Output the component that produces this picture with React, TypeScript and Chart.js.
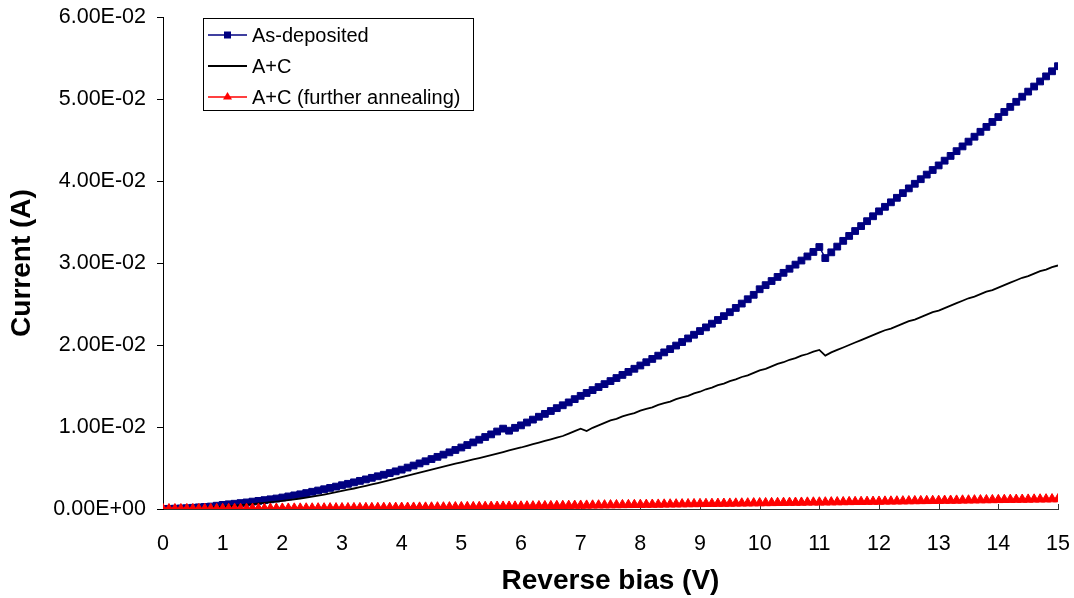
import React, { useEffect, useRef } from 'react';
import { Chart, registerables } from 'chart.js';

Chart.register(...registerables);

const voltage = [
  0.0, 0.1, 0.2, 0.3, 0.4, 0.5, 0.6, 0.7, 0.8, 0.9,
  1.0, 1.1, 1.2, 1.3, 1.4, 1.5, 1.6, 1.7, 1.8, 1.9,
  2.0, 2.1, 2.2, 2.3, 2.4, 2.5, 2.6, 2.7, 2.8, 2.9,
  3.0, 3.1, 3.2, 3.3, 3.4, 3.5, 3.6, 3.7, 3.8, 3.9,
  4.0, 4.1, 4.2, 4.3, 4.4, 4.5, 4.6, 4.7, 4.8, 4.9,
  5.0, 5.1, 5.2, 5.3, 5.4, 5.5, 5.6, 5.7, 5.8, 5.9,
  6.0, 6.1, 6.2, 6.3, 6.4, 6.5, 6.6, 6.7, 6.8, 6.9,
  7.0, 7.1, 7.2, 7.3, 7.4, 7.5, 7.6, 7.7, 7.8, 7.9,
  8.0, 8.1, 8.2, 8.3, 8.4, 8.5, 8.6, 8.7, 8.8, 8.9,
  9.0, 9.1, 9.2, 9.3, 9.4, 9.5, 9.6, 9.7, 9.8, 9.9,
  10.0, 10.1, 10.2, 10.3, 10.4, 10.5, 10.6, 10.7, 10.8, 10.9,
  11.0, 11.1, 11.2, 11.3, 11.4, 11.5, 11.6, 11.7, 11.8, 11.9,
  12.0, 12.1, 12.2, 12.3, 12.4, 12.5, 12.6, 12.7, 12.8, 12.9,
  13.0, 13.1, 13.2, 13.3, 13.4, 13.5, 13.6, 13.7, 13.8, 13.9,
  14.0, 14.1, 14.2, 14.3, 14.4, 14.5, 14.6, 14.7, 14.8, 14.9,
  15.0,
];

const asDeposited = [
  0, 0.00002, 0.00004, 0.00007, 0.0001, 0.00015, 0.0002, 0.00025, 0.0003, 0.0004,
  0.0005, 0.00057, 0.00064, 0.00072, 0.0008, 0.0009, 0.00099, 0.00108, 0.00118, 0.00128,
  0.0014, 0.00153, 0.00166, 0.00179, 0.00194, 0.0021, 0.00225, 0.00241, 0.00257, 0.00273,
  0.0029, 0.00307, 0.00325, 0.00343, 0.00361, 0.0038, 0.00399, 0.00418, 0.00438, 0.00459,
  0.0048, 0.00505, 0.0053, 0.00556, 0.00582, 0.00609, 0.00636, 0.00663, 0.00691, 0.0072,
  0.0075, 0.0078, 0.00812, 0.00845, 0.00878, 0.0091, 0.00945, 0.0098, 0.00955, 0.0099,
  0.0102, 0.01055, 0.0109, 0.01125, 0.0116, 0.01195, 0.0123, 0.01265, 0.013, 0.0134,
  0.0138, 0.01415, 0.0145, 0.01487, 0.01523, 0.0156, 0.01597, 0.01635, 0.01672, 0.0171,
  0.0175, 0.0179, 0.0183, 0.0187, 0.0191, 0.0195, 0.01993, 0.02036, 0.0208, 0.02125,
  0.0217, 0.02215, 0.0226, 0.02305, 0.02352, 0.024, 0.02452, 0.02505, 0.02558, 0.02612,
  0.0268, 0.0273, 0.0278, 0.0283, 0.0288, 0.0293, 0.0298, 0.0303, 0.0308, 0.03135,
  0.03195, 0.0306, 0.0313, 0.032, 0.0327, 0.0333, 0.0339, 0.0345, 0.0351, 0.0357,
  0.0363, 0.03685, 0.0374, 0.03795, 0.03852, 0.0391, 0.03966, 0.04022, 0.04078, 0.04134,
  0.0419, 0.04248, 0.04306, 0.04364, 0.04422, 0.0448, 0.0454, 0.046, 0.0466, 0.0472,
  0.0478, 0.04842, 0.04904, 0.04966, 0.05028, 0.0509, 0.05152, 0.05214, 0.05276, 0.05338,
  0.054,
];

const aPlusC = [
  0, 0.00001, 0.00002, 0.00004, 0.00006, 0.00009, 0.00012, 0.00016, 0.0002, 0.00025,
  0.0003, 0.00035, 0.00041, 0.00047, 0.00053, 0.0006, 0.00067, 0.00075, 0.00083, 0.00091,
  0.001, 0.00109, 0.00118, 0.00128, 0.00139, 0.0015, 0.00163, 0.00176, 0.0019, 0.00205,
  0.0022, 0.00235, 0.0025, 0.00266, 0.00283, 0.003, 0.00317, 0.00335, 0.00353, 0.00371,
  0.0039, 0.00408, 0.00426, 0.00444, 0.00462, 0.0048, 0.00498, 0.00516, 0.00534, 0.00552,
  0.0057, 0.00587, 0.00604, 0.00621, 0.00639, 0.00657, 0.00676, 0.00695, 0.00714, 0.00733,
  0.0075, 0.0077, 0.0079, 0.0081, 0.0083, 0.0085, 0.0087, 0.0089, 0.0092, 0.0095,
  0.0098, 0.0095, 0.0099, 0.0102, 0.0105, 0.0108, 0.011, 0.0113, 0.0115, 0.0117,
  0.012, 0.0122, 0.0124, 0.0127, 0.0129, 0.0131, 0.0134, 0.0136, 0.0138, 0.0141,
  0.0143, 0.0146, 0.0148, 0.0151, 0.0153, 0.0156, 0.0158, 0.0161, 0.0163, 0.0166,
  0.0169, 0.0171, 0.0174, 0.0177, 0.0179, 0.0182, 0.0184, 0.0187, 0.0189, 0.0192,
  0.0194, 0.0187, 0.0191, 0.0194, 0.0197, 0.02, 0.0203, 0.0206, 0.0209, 0.0212,
  0.0215, 0.0218, 0.022, 0.0223, 0.0226, 0.0229, 0.0231, 0.0234, 0.0237, 0.024,
  0.0242, 0.0245, 0.0248, 0.0251, 0.0254, 0.0257, 0.0259, 0.0262, 0.0265, 0.0267,
  0.027, 0.0273, 0.0276, 0.0279, 0.0282, 0.0284, 0.0287, 0.029, 0.0292, 0.0295,
  0.0297,
];

const furtherAnnealing = [
  0, 0, 0, 0, 0.00001, 0.00001, 0.00001, 0.00002, 0.00002, 0.00002,
  0.00003, 0.00003, 0.00004, 0.00004, 0.00004, 0.00005, 0.00005, 0.00005, 0.00006, 0.00006,
  0.00007, 0.00007, 0.00008, 0.00008, 0.00009, 0.00009, 0.0001, 0.0001, 0.00011, 0.00011,
  0.00012, 0.00012, 0.00013, 0.00013, 0.00014, 0.00014, 0.00015, 0.00016, 0.00016, 0.00017,
  0.00018, 0.00018, 0.00019, 0.0002, 0.0002, 0.00021, 0.00022, 0.00022, 0.00023, 0.00024,
  0.00025, 0.00026, 0.00026, 0.00027, 0.00028, 0.00029, 0.0003, 0.00031, 0.00031, 0.00032,
  0.00033, 0.00034, 0.00035, 0.00036, 0.00037, 0.00038, 0.00039, 0.0004, 0.00041, 0.00042,
  0.00043, 0.00044, 0.00045, 0.00046, 0.00047, 0.00048, 0.00049, 0.0005, 0.00051, 0.00052,
  0.00053, 0.00054, 0.00055, 0.00056, 0.00057, 0.00058, 0.00059, 0.0006, 0.00061, 0.00062,
  0.00063, 0.00064, 0.00065, 0.00066, 0.00067, 0.00068, 0.00069, 0.0007, 0.00071, 0.00072,
  0.00073, 0.00074, 0.00075, 0.00076, 0.00077, 0.00078, 0.00079, 0.0008, 0.00081, 0.00082,
  0.00082, 0.00083, 0.00084, 0.00085, 0.00086, 0.00087, 0.00088, 0.00089, 0.0009, 0.00091,
  0.00092, 0.00093, 0.00094, 0.00095, 0.00096, 0.00097, 0.00098, 0.00099, 0.001, 0.00101,
  0.00102, 0.00103, 0.00104, 0.00105, 0.00106, 0.00107, 0.00108, 0.00109, 0.0011, 0.00111,
  0.00112, 0.00113, 0.00114, 0.00115, 0.00116, 0.00117, 0.00118, 0.00119, 0.0012, 0.00121,
  0.00122,
];

const seriesNames = ['As-deposited', 'A+C', 'A+C (further annealing)'];
const xTickLabels = ['0', '1', '2', '3', '4', '5', '6', '7', '8', '9', '10', '11', '12', '13', '14', '15'];
const yTickLabels = ['0.00E+00', '1.00E-02', '2.00E-02', '3.00E-02', '4.00E-02', '5.00E-02', '6.00E-02'];
const xTitle = 'Reverse bias (V)';
const yTitle = 'Current (A)';

const FONT = '"Liberation Sans", Arial, sans-serif';

const toPoints = (ys: number[]) => ys.map((y, i) => ({ x: voltage[i], y }));

const axisTicks = {
  id: 'axisTicks',
  beforeDatasetsDraw(chart: any) {
    const { ctx, chartArea } = chart;
    const xs = chart.scales.x;
    const ys = chart.scales.y;
    ctx.save();
    ctx.lineWidth = 1;
    ctx.strokeStyle = '#333';
    xs.ticks.forEach((t: any) => {
      const px = Math.round(xs.getPixelForValue(t.value)) + 0.5;
      ctx.beginPath();
      ctx.moveTo(px, chartArea.bottom);
      ctx.lineTo(px, chartArea.bottom - 5);
      ctx.stroke();
    });
    ctx.strokeStyle = '#000';
    ys.ticks.forEach((t: any) => {
      const py = Math.round(ys.getPixelForValue(t.value)) + 0.5;
      ctx.beginPath();
      ctx.moveTo(chartArea.left, py);
      ctx.lineTo(chartArea.left - 6, py);
      ctx.stroke();
    });
    ctx.restore();
  },
};

const boxLegend = {
  id: 'boxLegend',
  afterDraw(chart: any) {
    const { ctx, chartArea } = chart;
    const bx = chartArea.left + 40;
    const by = chartArea.top + 1;
    const bw = 270;
    const bh = 92;
    ctx.save();
    ctx.fillStyle = '#ffffff';
    ctx.fillRect(bx, by, bw, bh);
    ctx.strokeStyle = '#000';
    ctx.lineWidth = 1;
    ctx.strokeRect(bx + 0.5, by + 0.5, bw, bh);
    chart.data.datasets.forEach((ds: any, i: number) => {
      const y = by + 17 + i * 31;
      const x0 = bx + 5;
      const x1 = bx + 44;
      ctx.strokeStyle = ds.borderColor;
      ctx.lineWidth = ds.borderWidth;
      ctx.beginPath();
      ctx.moveTo(x0, y);
      ctx.lineTo(x1, y);
      ctx.stroke();
      const cx = (x0 + x1) / 2;
      ctx.fillStyle = ds.pointBackgroundColor;
      if (ds.pointStyle === 'rect' && ds.pointRadius > 0) {
        ctx.fillRect(cx - 3.5, y - 3.5, 7, 7);
      } else if (ds.pointStyle === 'triangle' && ds.pointRadius > 0) {
        ctx.beginPath();
        ctx.moveTo(cx, y - 5);
        ctx.lineTo(cx + 4.5, y + 2.5);
        ctx.lineTo(cx - 4.5, y + 2.5);
        ctx.closePath();
        ctx.fill();
      }
      ctx.fillStyle = '#000';
      ctx.font = `20px ${FONT}`;
      ctx.textBaseline = 'middle';
      ctx.textAlign = 'left';
      ctx.fillText(ds.label, bx + 49, y + 1);
    });
    ctx.restore();
  },
};

export default function App() {
  const canvasRef = useRef<HTMLCanvasElement | null>(null);

  useEffect(() => {
    const canvas = canvasRef.current;
    if (!canvas) return;
    const chart = new Chart(canvas, {
      type: 'line',
      data: {
        datasets: [
          {
            label: seriesNames[0],
            data: toPoints(asDeposited),
            borderColor: '#000080',
            backgroundColor: '#000080',
            pointBackgroundColor: '#000080',
            pointBorderColor: '#000080',
            pointStyle: 'rect',
            pointRadius: 4.8,
            pointBorderWidth: 1,
            borderWidth: 1.5,
            order: 2,
          },
          {
            label: seriesNames[1],
            data: toPoints(aPlusC),
            borderColor: '#000000',
            backgroundColor: '#000000',
            pointBackgroundColor: '#000000',
            pointRadius: 0,
            borderWidth: 1.8,
            order: 1,
          },
          {
            label: seriesNames[2],
            data: toPoints(furtherAnnealing),
            borderColor: '#FF0000',
            backgroundColor: '#FF0000',
            pointBackgroundColor: '#FF0000',
            pointBorderColor: '#FF0000',
            pointStyle: 'triangle',
            pointRadius: 5.5,
            pointBorderWidth: 1,
            borderWidth: 1.5,
            order: 0,
          },
        ] as any,
      },
      options: {
        animation: false,
        responsive: false,
        maintainAspectRatio: false,
        layout: { padding: { left: 0, right: 16, top: 17, bottom: 0 } },
        plugins: {
          legend: { display: false },
          tooltip: { enabled: false },
        },
        elements: { line: { tension: 0 } },
        scales: {
          x: {
            type: 'linear',
            min: 0,
            max: 15,
            ticks: {
              stepSize: 1,
              autoSkip: false,
              maxRotation: 0,
              padding: 0,
              color: '#000',
              font: { family: FONT, size: 21.5 },
              callback: (v: any) => xTickLabels[Math.round(Number(v))],
            },
            grid: { drawOnChartArea: false, drawTicks: true, tickLength: 22, color: 'rgba(0,0,0,0)' },
            border: { display: true, color: '#333', width: 1 },
            title: {
              display: true,
              text: xTitle,
              color: '#000',
              font: { family: FONT, size: 28, weight: 'bold' },
              padding: { top: 0, bottom: 0 },
            },
            afterFit: (s: any) => {
              s.height = 89;
            },
          },
          y: {
            type: 'linear',
            min: 0,
            max: 0.06,
            ticks: {
              stepSize: 0.01,
              padding: 0,
              color: '#000',
              font: { family: FONT, size: 21.5 },
              callback: (v: any) => yTickLabels[Math.round(Number(v) / 0.01)],
            },
            grid: { drawOnChartArea: false, drawTicks: true, tickLength: 17, color: 'rgba(0,0,0,0)' },
            border: { display: true, color: '#000', width: 1 },
            title: {
              display: true,
              text: yTitle,
              color: '#000',
              font: { family: FONT, size: 28, weight: 'bold' },
              padding: { top: 5, bottom: 0 },
            },
            afterFit: (s: any) => {
              s.width = 163;
            },
          },
        },
      } as any,
      plugins: [axisTicks, boxLegend],
    });
    return () => chart.destroy();
  }, []);

  return (
    <div style={{ position: 'absolute', left: 0, top: 0, width: 1074, height: 598, background: '#fff' }}>
      <canvas ref={canvasRef} width={1074} height={598} style={{ display: 'block' }} />
    </div>
  );
}
